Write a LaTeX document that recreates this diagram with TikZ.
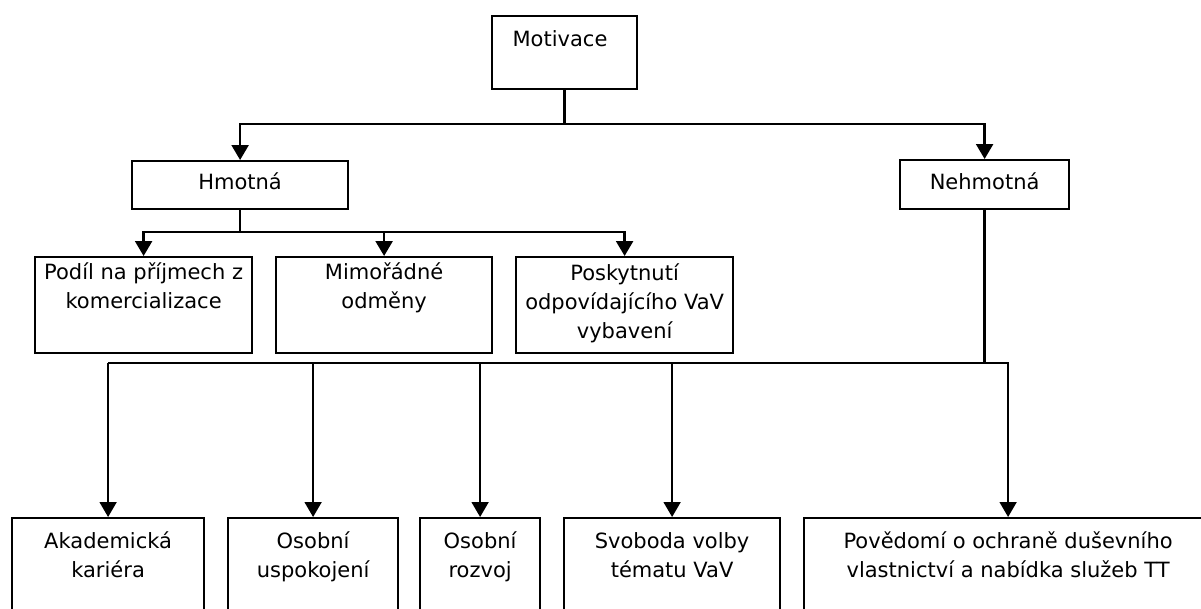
\documentclass[tikz,border=0pt]{standalone}
\usepackage{fontspec}
\setmainfont{DejaVu Sans}
\usetikzlibrary{arrows.meta}
\begin{document}
\begin{tikzpicture}[x=1pt,y=-1pt,
  bx/.style={draw,line width=2.2pt,rectangle,anchor=north west,inner sep=0pt},
  lbl/.style={font=\fontsize{21}{29}\selectfont,align=center,inner sep=0pt},
  conn/.style={line width=2.4pt},
  conn2/.style={line width=1.8pt},
  tip/.style={-{Triangle[length=15pt,width=17pt]}}]
\useasboundingbox (0,0) rectangle (1201,608);
\clip (0,0) rectangle (1201,608);
% boxes
\node[bx,minimum width=145pt,minimum height=73pt] (mot) at (491,15) {};
\node[bx,minimum width=216pt,minimum height=48pt] (hm) at (131,160) {};
\node[bx,minimum width=169pt,minimum height=49pt] (nh) at (899,159) {};
\node[bx,minimum width=217pt,minimum height=96pt] (pa) at (34,256) {};
\node[bx,minimum width=216pt,minimum height=96pt] (pb) at (275,256) {};
\node[bx,minimum width=217pt,minimum height=96pt] (pc) at (515,256) {};
\node[bx,minimum width=192pt,minimum height=110pt] (b1) at (11,517) {};
\node[bx,minimum width=170pt,minimum height=110pt] (b2) at (227,517) {};
\node[bx,minimum width=120pt,minimum height=110pt] (b3) at (419,517) {};
\node[bx,minimum width=216pt,minimum height=110pt] (b4) at (563,517) {};
\node[bx,minimum width=408pt,minimum height=110pt] (b5) at (803,517) {};
% texts
\node[lbl] (tmot) at (560,41) {\strut Motivace\strut};
\node[lbl] (thm) at (hm.north |- 0,184) {\strut Hmotná\strut};
\node[lbl] (tnh) at (nh.north |- 0,184) {\strut Nehmotná\strut};
\node[lbl] (tpa) at (pa.north |- 0,288.5) {\strut Podíl na příjmech z\\komercializace\strut};
\node[lbl] (tpb) at (pb.north |- 0,288.5) {\strut Mimořádné\\odměny\strut};
\node[lbl] (tpc) at (pc.north |- 0,304) {\strut Poskytnutí\\odpovídajícího VaV\\vybavení\strut};
\node[lbl] (tb1) at (b1.north |- 0,557.5) {\strut Akademická\\kariéra\strut};
\node[lbl] (tb2) at (b2.north |- 0,557.5) {\strut Osobní\\uspokojení\strut};
\node[lbl] (tb3) at (b3.north |- 0,557.5) {\strut Osobní\\rozvoj\strut};
\node[lbl] (tb4) at (b4.north |- 0,557.5) {\strut Svoboda volby\\tématu VaV\strut};
\node[lbl] (tb5) at (b5.north |- 0,557.5) {\strut Povědomí o ochraně duševního\\vlastnictví a nabídka služeb TT\strut};
% connectors
\coordinate (jT) at (mot.south |- 0,124);
\draw[conn] (mot.south) -- (jT);
\draw[conn,tip] (jT) -| (hm.north);
\draw[conn,tip] (jT) -| (nh.north);
\coordinate (jH) at (hm.south |- 0,232);
\draw[conn] (hm.south) -- (jH);
\draw[conn,tip] (jH) -| (pa.north);
\draw[conn,tip] (jH) -| (pb.north);
\draw[conn,tip] (jH) -| (pc.north);
\coordinate (jN) at (nh.south |- 0,363);
\draw[conn] (nh.south) -- (jN);
\draw[conn] (jN) -- (b1.north |- jN);
\draw[conn2,tip] (jN) -| (b5.north);
\draw[conn2,tip] (b1.north |- jN) -- (b1.north);
\draw[conn2,tip] (b2.north |- jN) -- (b2.north);
\draw[conn2,tip] (b3.north |- jN) -- (b3.north);
\draw[conn2,tip] (b4.north |- jN) -- (b4.north);
\end{tikzpicture}
\end{document}
